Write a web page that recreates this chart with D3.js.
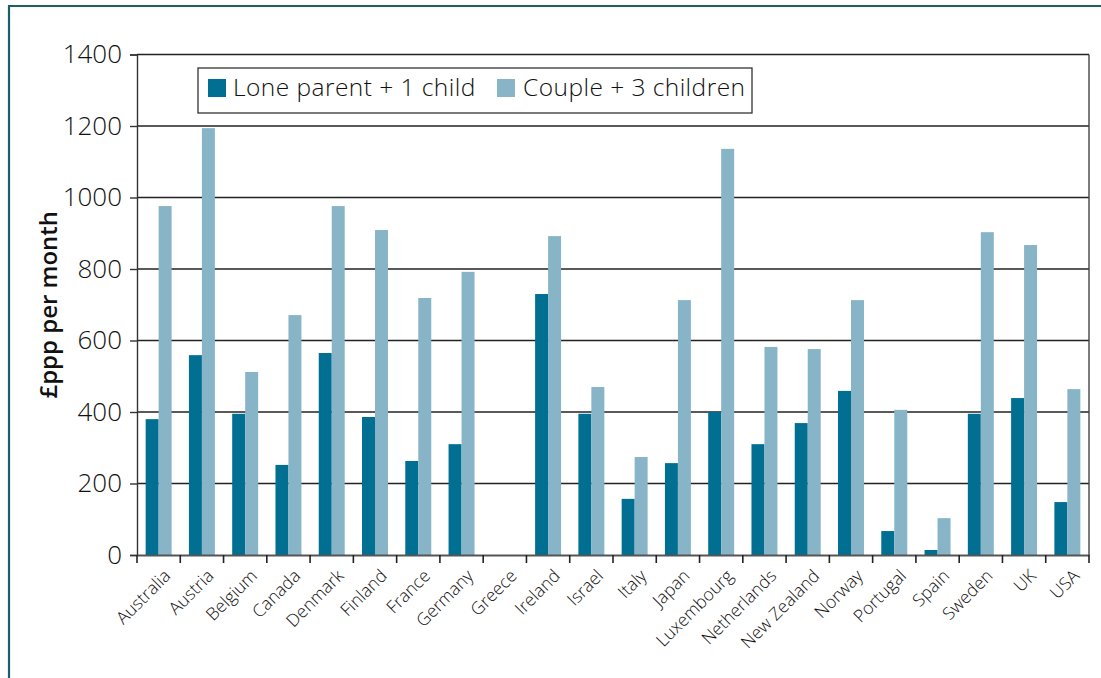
<!DOCTYPE html>
<html>
<head>
<meta charset="utf-8">
<script src="https://cdn.jsdelivr.net/npm/d3@7"></script>
<style>
  html, body { margin: 0; padding: 0; background: #fff; }
  svg { display: block; font-family: "Open Sans", "Noto Sans", sans-serif; }
</style>
</head>
<body>
<svg id="chart" width="1101" height="678"></svg>
<script>
const categories = ["Australia","Austria","Belgium","Canada","Denmark","Finland","France","Germany","Greece","Ireland","Israel","Italy","Japan","Luxembourg","Netherlands","New Zealand","Norway","Portugal","Spain","Sweden","UK","USA"];
const loneParent = [380, 559, 395, 252, 565, 386, 263, 310, null, 730, 395, 157, 257, 400, 310, 369, 459, 67, 14, 395, 439, 148];
const couple3 = [976, 1194, 512, 671, 976, 909, 719, 792, null, 892, 470, 274, 713, 1136, 582, 576, 713, 406, 103, 903, 867, 464];
const seriesNames = ["Lone parent + 1 child", "Couple + 3 children"];
const seriesColors = ["#016f91", "#87b4c7"];
const yTicks = [0, 200, 400, 600, 800, 1000, 1200, 1400];
const yTitle = "£ppp per month";

const svg = d3.select("#chart");
const m = {left: 137, right: 1089, top: 54.5, bottom: 555};

// frame
svg.append("path")
  .attr("d", `M9,690 L9,6 L1110,6`)
  .attr("fill", "none").attr("stroke", "#1b6068").attr("stroke-width", 2.2);

const x = d3.scaleBand().domain(categories).range([m.left, m.right]).paddingInner(0.4).paddingOuter(0.2);
const x1 = d3.scaleBand().domain([0, 1]).range([0, x.bandwidth()]);
const y = d3.scaleLinear().domain([0, 1400]).range([m.bottom, m.top]);

// gridlines
svg.append("g").selectAll("line").data(yTicks.filter(t => t > 0)).join("line")
  .attr("x1", m.left).attr("x2", m.right)
  .attr("y1", d => y(d)).attr("y2", d => y(d))
  .attr("stroke", "#222").attr("stroke-width", 1.5);

// right border
svg.append("line").attr("x1", m.right).attr("x2", m.right).attr("y1", m.top).attr("y2", m.bottom)
  .attr("stroke", "#444").attr("stroke-width", 1.4);

// bars
const groups = svg.append("g").selectAll("g").data(categories).join("g")
  .attr("transform", d => `translate(${x(d)},0)`);
groups.selectAll("rect").data((d, i) => [loneParent[i], couple3[i]].map((v, s) => ({v, s})))
  .join("rect")
  .filter(d => d.v != null)
  .attr("x", d => x1(d.s)).attr("width", x1.bandwidth())
  .attr("y", d => y(d.v)).attr("height", d => y(0) - y(d.v))
  .attr("fill", d => seriesColors[d.s]);

// y axis
const yAxis = d3.axisLeft(y).tickValues(yTicks).tickSize(7).tickPadding(8).tickFormat(d3.format("d"));
const gy = svg.append("g").attr("transform", `translate(${m.left},0)`).call(yAxis);
gy.select(".domain").attr("stroke", "#333").attr("stroke-width", 1.4);
gy.selectAll(".tick line").attr("stroke", "#333").attr("stroke-width", 1.4);
gy.selectAll(".tick text").attr("font-size", 26).attr("font-weight", 350).attr("fill", "#111")
  .attr("font-family", "'Open Sans', sans-serif");

// x axis
const xAxis = d3.axisBottom(x).tickSize(0).tickFormat(d => d);
const gx = svg.append("g").attr("transform", `translate(0,${m.bottom})`).call(xAxis);
gx.select(".domain").attr("stroke", "#555").attr("stroke-width", 2);
gx.selectAll(".tick text")
  .attr("font-size", 17.5).attr("font-weight", 350).attr("fill", "#111")
  .attr("font-family", "'Open Sans', sans-serif")
  .attr("text-anchor", "end")
  .attr("dy", null).attr("y", 0)
  .attr("transform", "translate(13,22) rotate(-45)");
// category boundary ticks
const bounds = categories.map(c => x(c) - x.step() * x.paddingInner() / 2).concat([m.right]);
bounds[0] = m.left;
gx.append("g").selectAll("line").data(bounds).join("line")
  .attr("x1", d => d).attr("x2", d => d).attr("y1", 0).attr("y2", 8)
  .attr("stroke", "#222").attr("stroke-width", 1.6);

// y title
svg.append("text")
  .attr("transform", `translate(47,${(m.top + m.bottom) / 2}) rotate(-90)`)
  .attr("text-anchor", "middle").attr("dominant-baseline", "central")
  .attr("font-size", 24).attr("font-weight", 600).attr("fill", "#111")
  .text(yTitle);

// legend
const lg = svg.append("g");
lg.append("rect").attr("x", 198).attr("y", 68).attr("width", 554).attr("height", 45)
  .attr("fill", "#fff").attr("stroke", "#333").attr("stroke-width", 1.3);
const items = [{x: 208, tx: 233}, {x: 497, tx: 523}];
items.forEach((it, i) => {
  lg.append("rect").attr("x", it.x).attr("y", 79).attr("width", 18).attr("height", 18).attr("fill", seriesColors[i]);
  lg.append("text").attr("x", it.tx).attr("y", 96).attr("font-size", 24.5).attr("font-weight", 350)
    .attr("letter-spacing", 0.45).attr("fill", "#111")
    .text(seriesNames[i]);
});
</script>
</body>
</html>
